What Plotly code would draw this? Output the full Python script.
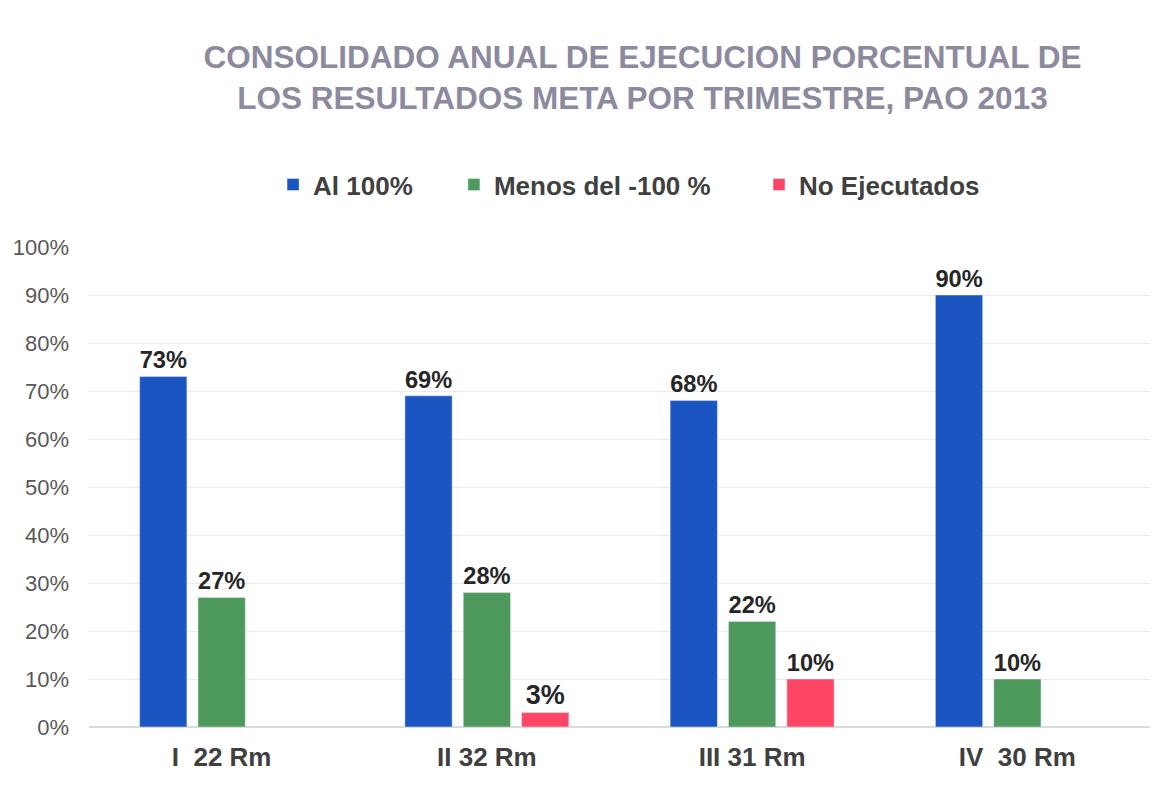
import plotly.graph_objects as go

categories = ["I  22 Rm", "II 32 Rm", "III 31 Rm", "IV  30 Rm"]
al_100 = [73, 69, 68, 90]
menos_100 = [27, 28, 22, 10]
no_ejecutados = [None, 3, 10, None]
y_ticks = list(range(0, 101, 10))

FONT = "Liberation Sans, Arial, sans-serif"
NB = "\u00a0"

def labels(vals):
    return [f"<b>{v}%</b>" if v is not None else "" for v in vals]

fig = go.Figure()
for name, vals, color, pad in [
    ("Al 100%", al_100, "#1B55C2", 5),
    ("Menos del -100 %", menos_100, "#4E9A5C", 6),
    ("No Ejecutados", no_ejecutados, "#FF4665", 0),
]:
    fig.add_trace(go.Bar(
        name=f"<b>{name}</b>" + NB * pad, x=categories, y=vals, marker_color=color,
        text=labels(vals), textposition="outside", cliponaxis=False,
        textfont=dict(family=FONT, size=27, color="#262626"),
    ))

fig.update_layout(
    width=1175, height=786,
    paper_bgcolor="white", plot_bgcolor="white",
    margin=dict(l=81, r=33, t=239, b=67),
    barmode="group", bargap=0.34, bargroupgap=0.19,
    title=dict(
        text="<b>CONSOLIDADO ANUAL DE EJECUCION PORCENTUAL DE<br>LOS RESULTADOS META POR TRIMESTRE, PAO 2013</b>",
        x=0.540, xanchor="center", y=0.924, yanchor="top",
        font=dict(family=FONT, size=31.5, color="#8D8AA0"),
    ),
    legend=dict(
        orientation="h", x=0.509, xanchor="center", y=1.13, yanchor="middle",
        font=dict(family=FONT, size=26, color="#404040"),
        itemwidth=30,
    ),
    font=dict(family=FONT),
)
fig.update_traces(texttemplate="%{text}")
fig.update_yaxes(
    range=[0, 100], tickvals=y_ticks, ticktext=[f"{v}%" for v in y_ticks],
    showgrid=True, gridcolor="#EBEBEB", zeroline=True, zerolinecolor="#DADADA",
    tickfont=dict(family=FONT, size=22, color="#595959"), ticks="", ticklen=0,
    showline=False, ticklabelstandoff=19, automargin=False,
)
fig.update_xaxes(
    tickfont=dict(family=FONT, size=26, color="#404040"),
    tickprefix="<b>", ticksuffix="</b>", showline=False, ticks="",
    ticklabelstandoff=12, automargin=False,
)
fig.write_html("out.html")
